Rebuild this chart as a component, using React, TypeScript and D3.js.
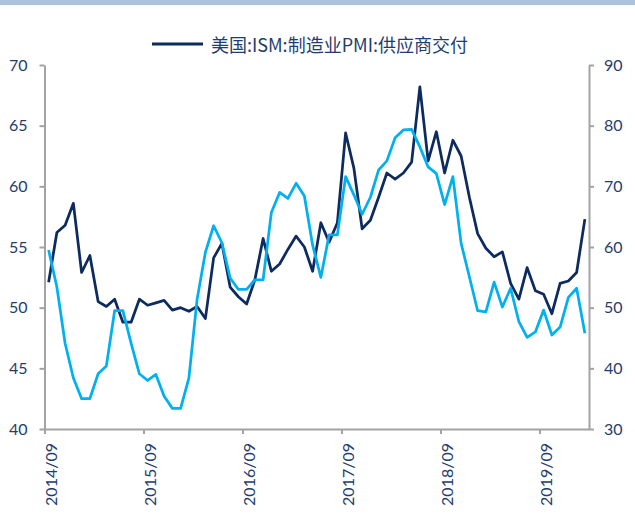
import React from 'react';
import * as d3 from 'd3';

// monthly categories, 2014/09 .. 2020/02
const months: string[] = d3
  .timeMonth.range(new Date(2014, 8, 1), new Date(2020, 2, 1))
  .map(d3.timeFormat('%Y/%m'));

// 美国:ISM:制造业PMI:供应商交付 (left axis)
const ismDeliveries: number[] = [
  52.1, 56.2, 56.8, 58.6, 52.9, 54.3, 50.5, 50.1, 50.7, 48.8, 48.8, 50.7,
  50.2, 50.4, 50.6, 49.8, 50.0, 49.7, 50.1, 49.1, 54.1, 55.3, 51.7, 50.9,
  50.3, 52.3, 55.7, 53.0, 53.6, 54.8, 55.9, 55.0, 53.0, 57.0, 55.4, 57.0,
  64.4, 61.5, 56.5, 57.2, 59.1, 61.1, 60.6, 61.1, 62.0, 68.2, 62.1, 64.5,
  61.1, 63.8, 62.5, 59.1, 56.1, 54.9, 54.2, 54.6, 52.0, 50.7, 53.3, 51.4,
  51.1, 49.5, 52.0, 52.2, 52.9, 57.3,
];

// unlabelled light-blue series (right axis)
const rightSeries: number[] = [
  59.5, 53.4, 44.1, 38.4, 35.0, 35.0, 39.1, 40.4, 49.5, 49.5, 44.1, 39.1,
  38.0, 39.0, 35.4, 33.4, 33.4, 38.4, 51.4, 59.1, 63.5, 60.7, 54.9, 53.0,
  53.0, 54.6, 54.6, 65.7, 69.0, 68.0, 70.5, 68.4, 60.3, 55.0, 62.0, 62.0,
  71.6, 68.6, 65.4, 68.2, 72.7, 74.2, 78.0, 79.3, 79.4, 76.5, 73.2, 72.1,
  67.0, 71.6, 60.6, 55.1, 49.5, 49.3, 54.2, 50.1, 53.2, 47.7, 45.1, 46.0,
  49.6, 45.5, 46.8, 51.7, 53.2, 45.8,
];

const leftTicks = [40, 45, 50, 55, 60, 65, 70];
const rightTicks = [30, 40, 50, 60, 70, 80, 90];
const xTickIdx = [0, 12, 24, 36, 48, 60];

const legendLabel = '美国:ISM:制造业PMI:供应商交付';

const W = 635;
const H = 518;
const plot = { left: 44.5, right: 589, top: 65, bottom: 429 };
const darkBlue = '#0d2b5e';
const lightBlue = '#00b0f0';
const textColor = '#1f3d6d';
const axisColor = '#a3a3a3';

const App: React.FC = () => {
  const svgRef = React.useRef<SVGSVGElement>(null);

  React.useEffect(() => {
    const svg = d3.select(svgRef.current);
    svg.selectAll('*').remove();

    const x = d3.scaleLinear().domain([0, months.length]).range([plot.left, plot.right]);
    const yL = d3.scaleLinear().domain([40, 70]).range([plot.bottom, plot.top]);
    const yR = d3.scaleLinear().domain([30, 90]).range([plot.bottom, plot.top]);

    // top strip
    svg.append('rect').attr('x', 0).attr('y', 0).attr('width', W).attr('height', 5).attr('fill', '#adc3dc');

    const styleAxis = (g: any) => {
      g.select('.domain').attr('stroke', axisColor).attr('stroke-width', 2);
      g.selectAll('.tick line').attr('stroke', axisColor).attr('stroke-width', 2);
      g.selectAll('.tick text')
        .attr('fill', textColor)
        .style('font-family', 'Lato, "Liberation Sans", sans-serif')
        .style('font-size', '16px');
    };

    const gx = svg
      .append('g')
      .attr('transform', `translate(0,${plot.bottom})`)
      .call(
        d3
          .axisBottom(x)
          .tickValues(xTickIdx)
          .tickFormat((i) => months[i as number])
          .tickSize(5)
          .tickSizeOuter(0) as any
      );
    styleAxis(gx);
    gx.selectAll('.tick text')
      .attr('transform', 'rotate(-90)')
      .attr('text-anchor', 'end')
      .attr('x', -14)
      .attr('y', 12)
      .attr('dy', 0);

    const gl = svg
      .append('g')
      .attr('transform', `translate(${plot.left},0)`)
      .call(d3.axisLeft(yL).tickValues(leftTicks).tickSize(5).tickSizeOuter(0).tickPadding(12) as any);
    styleAxis(gl);

    const gr = svg
      .append('g')
      .attr('transform', `translate(${plot.right},0)`)
      .call(d3.axisRight(yR).tickValues(rightTicks).tickSize(5).tickSizeOuter(0).tickPadding(10) as any);
    styleAxis(gr);

    const lineL = d3
      .line<number>()
      .x((_, i) => x(i + 0.5))
      .y((v) => yL(v));
    const lineR = d3
      .line<number>()
      .x((_, i) => x(i + 0.5))
      .y((v) => yR(v));

    svg
      .append('path')
      .datum(ismDeliveries)
      .attr('d', lineL)
      .attr('fill', 'none')
      .attr('stroke', darkBlue)
      .attr('stroke-width', 2.75)
      .attr('stroke-linejoin', 'round');

    svg
      .append('path')
      .datum(rightSeries)
      .attr('d', lineR)
      .attr('fill', 'none')
      .attr('stroke', lightBlue)
      .attr('stroke-width', 2.75)
      .attr('stroke-linejoin', 'round');

    // legend
    const lg = svg.append('g');
    lg.append('line')
      .attr('x1', 152)
      .attr('x2', 203)
      .attr('y1', 44)
      .attr('y2', 44)
      .attr('stroke', darkBlue)
      .attr('stroke-width', 3);
    lg.append('text')
      .attr('x', 211)
      .attr('y', 51.5)
      .attr('fill', textColor)
      .style('font-family', '"Noto Sans CJK SC", sans-serif')
      .style('font-size', '18px')
      .text(legendLabel);
  }, []);

  return (
    <svg
      ref={svgRef}
      width={W}
      height={H}
      style={{ position: 'absolute', left: 0, top: 0, background: '#fff' }}
    />
  );
};

export default App;
